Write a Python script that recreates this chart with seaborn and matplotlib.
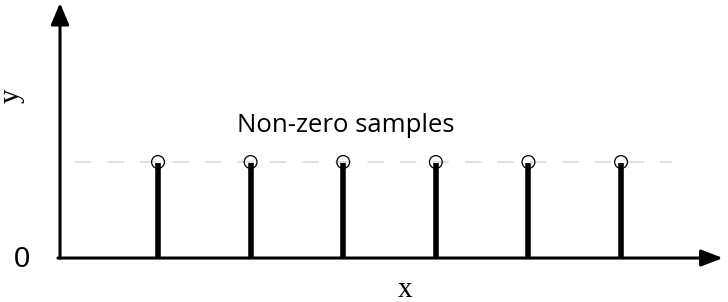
import numpy as np
import matplotlib
matplotlib.use("Agg")
import matplotlib.pyplot as plt
import seaborn as sns
import pandas as pd

# ------------------------------------------------------------
# Data
# ------------------------------------------------------------
sample_x = [1, 2, 3, 4, 5, 6]
sample_y = [1, 1, 1, 1, 1, 1]
label_text = "Non-zero samples"

df = pd.DataFrame({"x": sample_x, "y": sample_y})

sns.set_style("white")

fig = plt.figure(figsize=(7.28, 3.02), dpi=100)
ax = fig.add_axes([0, 0, 1, 1])

# pixel <-> data mapping (stem spacing ~92.6 px, unit height 96 px)
ax.set_xlim(-0.706, 7.155)
ax.set_ylim(-0.458, 2.6875)

# guide line through sample tops
ax.plot([0.104, 6.55], [1, 1], color="#dcdcdc", lw=1.3,
        dashes=(9, 9), zorder=1)

# axes with arrows
ax.annotate("", xy=(-0.058, 2.656), xytext=(-0.058, 0),
            arrowprops=dict(arrowstyle="-|>,head_length=1.3,head_width=0.55",
                            color="black", lw=2.2, shrinkA=0, shrinkB=0))
ax.annotate("", xy=(7.10, 0), xytext=(-0.08, 0),
            arrowprops=dict(arrowstyle="-|>,head_length=1.3,head_width=0.5",
                            color="black", lw=2.2, shrinkA=0, shrinkB=0))

# stems + open circles
ax.vlines(df["x"], 0, df["y"] - 0.01, color="black", lw=4.0, zorder=3)
sns.scatterplot(data=df, x="x", y="y", ax=ax, s=85, marker="o",
                facecolor="none", edgecolor="black", linewidth=0.9,
                zorder=4, legend=False)
ax.set_xlabel("")
ax.set_ylabel("")
ax.axis("off")

# labels
ax.text(3.025, 1.385, label_text, ha="center", va="center",
        fontsize=18.5, family="Open Sans", color="black")
ax.text(-0.474, -0.01, "0", ha="center", va="center", fontsize=21,
        family="Liberation Sans", color="black")
ax.text(-0.575, 1.69, "y", ha="center", va="center", fontsize=21,
        family="Liberation Serif", rotation=90, color="black")
ax.text(3.668, -0.333, "x", ha="center", va="center", fontsize=21,
        family="Liberation Serif", color="black")

fig.savefig("out.png", dpi=100)
